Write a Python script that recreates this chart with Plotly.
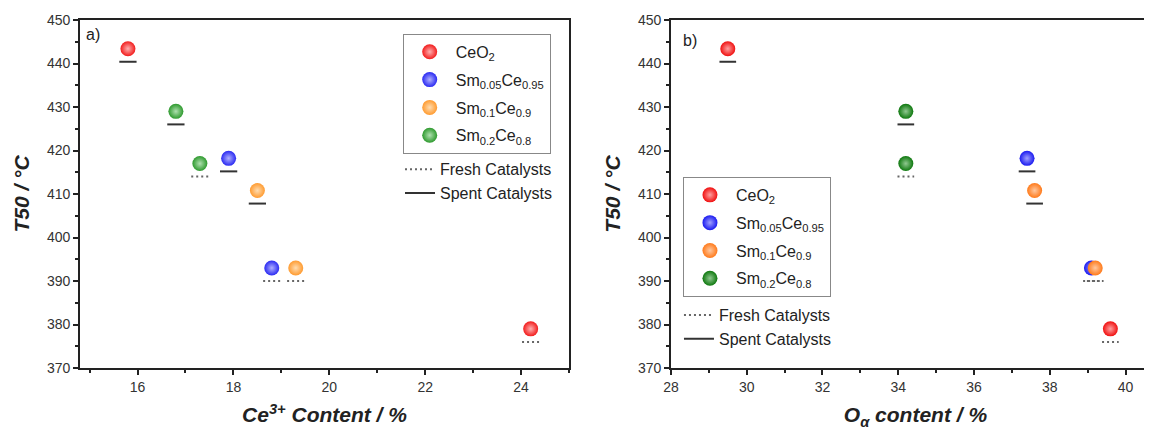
import plotly.graph_objects as go

# ---------------- data ----------------
species = ["CeO<sub>2</sub>", "Sm<sub>0.05</sub>Ce<sub>0.95</sub>",
           "Sm<sub>0.1</sub>Ce<sub>0.9</sub>", "Sm<sub>0.2</sub>Ce<sub>0.8</sub>"]
t50_spent = [443.4, 418.2, 410.8, 429.0]
t50_fresh = [379.0, 393.0, 393.0, 417.0]
ce3_spent = [15.8, 17.9, 18.5, 16.8]
ce3_fresh = [24.2, 18.8, 19.3, 17.3]
oa_spent = [29.5, 37.4, 37.6, 34.2]
oa_fresh = [39.6, 39.1, 39.2, 34.2]

colors_a = ["#f21c1c", "#2a2af2", "#ff9b30", "#2e9a2e"]
colors_b = ["#f01010", "#1a1af0", "#ff7a1a", "#0e780e"]
light_a = ["#ffb0b0", "#b0b0ff", "#ffdcb0", "#b0e0b0"]
light_b = ["#ffa0a0", "#a0a0ff", "#ffc8a0", "#90c890"]

# style constants
MARK_OFFSET = 3.0   # vertical gap of fresh/spent indicator below the sphere (°C)

fig = go.Figure()

panels = [
    dict(xa="x", ya="y", xs=ce3_spent, xf=ce3_fresh, cols=colors_a, lights=light_a,
         lg1="legend", lg2="legend2", hw=0.18, tag="a"),
    dict(xa="x2", ya="y2", xs=oa_spent, xf=oa_fresh, cols=colors_b, lights=light_b,
         lg1="legend3", lg2="legend4", hw=0.22, tag="b"),
]

for p in panels:
    for kind, xs, ys, dash, col in [("Fresh Catalysts", p["xf"], t50_fresh, "2px,3px", "#666666"),
                                    ("Spent Catalysts", p["xs"], t50_spent, "solid", "#333333")]:
        lx, ly = [], []
        for xv, yv in zip(xs, ys):
            lx += [xv - p["hw"], xv + p["hw"], None]
            ly += [yv - MARK_OFFSET, yv - MARK_OFFSET, None]
        fig.add_trace(go.Scatter(
            x=lx, y=ly, mode="lines", name=kind,
            line=dict(color=col, width=2, dash=dash),
            xaxis=p["xa"], yaxis=p["ya"], legend=p["lg2"], hoverinfo="skip"))
    for i, name in enumerate(species):
        fig.add_trace(go.Scatter(
            x=[p["xs"][i], p["xf"][i]], y=[t50_spent[i], t50_fresh[i]],
            mode="markers", name=name, legendgroup=f"{p['tag']}{i}",
            marker=dict(size=15, color=p["cols"][i],
                        gradient=dict(type="radial", color=p["lights"][i]),
                        line=dict(width=0)),
            xaxis=p["xa"], yaxis=p["ya"], legend=p["lg1"]))

FONT = "Liberation Sans, Arial"
axis_common = dict(showgrid=False, zeroline=False, ticks="outside", ticklen=5,
                   tickwidth=1.5, tickcolor="#222", linecolor="#222", linewidth=1.8,
                   automargin=False,
                   tickfont=dict(family=FONT, size=14, color="#333"))
minor_x = dict(ticks="outside", ticklen=3, dtick=1, tick0=0, tickcolor="#222")
minor_y = dict(ticks="outside", ticklen=3, dtick=5, tick0=0, tickcolor="#222")
title_font = dict(family=FONT, size=21, color="#222")
leg_font = dict(family=FONT, size=16, color="#222")

fig.update_layout(
    width=1152, height=432,
    margin=dict(l=72, r=0, t=12, b=72, autoexpand=False),
    paper_bgcolor="white", plot_bgcolor="white",
    font=dict(family=FONT, color="#222"),
    xaxis=dict(domain=[0.0, 0.4528], range=[14.8, 25], dtick=2, tick0=0,
               mirror=True, minor=minor_x,
               title=dict(text="<b><i>Ce<sup>3+</sup> Content / %</i></b>",
                          font=title_font, standoff=14),
               **axis_common),
    yaxis=dict(domain=[0, 1], range=[370, 450], dtick=10, mirror=True,
               minor=minor_y,
               title=dict(text="<b><i>T50 / °C</i></b>", font=title_font, standoff=12),
               **axis_common),
    xaxis2=dict(domain=[0.5472, 1.0], range=[28, 40.91], dtick=2, tick0=0,
                anchor="y2", mirror=True, minor=minor_x,
                title=dict(text="<b><i>O<sub>α</sub> content / %</i></b>",
                           font=title_font, standoff=14),
                **axis_common),
    yaxis2=dict(domain=[0, 1], range=[370, 450], dtick=10, anchor="x2",
                minor=minor_y,
                title=dict(text="<b><i>T50 / °C</i></b>", font=title_font, standoff=12),
                **axis_common),
    legend=dict(x=0.2988, y=0.960, xanchor="left", yanchor="top",
                bordercolor="#888", borderwidth=1, bgcolor="white", itemwidth=42,
                tracegroupgap=4, font=leg_font),
    legend2=dict(x=0.2963, y=0.62, xanchor="left", yanchor="top",
                 bgcolor="rgba(0,0,0,0)", font=leg_font),
    legend3=dict(x=0.5583, y=0.549, xanchor="left", yanchor="top",
                 bordercolor="#888", borderwidth=1, bgcolor="white", itemwidth=42,
                 tracegroupgap=4, font=leg_font),
    legend4=dict(x=0.5546, y=0.201, xanchor="left", yanchor="top",
                 bgcolor="rgba(0,0,0,0)", font=leg_font),
    annotations=[
        dict(text="a)", x=0.0037, y=0.957, xref="paper", yref="paper",
             xanchor="left", yanchor="middle", showarrow=False, font=leg_font),
        dict(text="b)", x=0.5565, y=0.9425, xref="paper", yref="paper",
             xanchor="left", yanchor="middle", showarrow=False, font=leg_font),
    ],
)

fig.write_html("out.html")
